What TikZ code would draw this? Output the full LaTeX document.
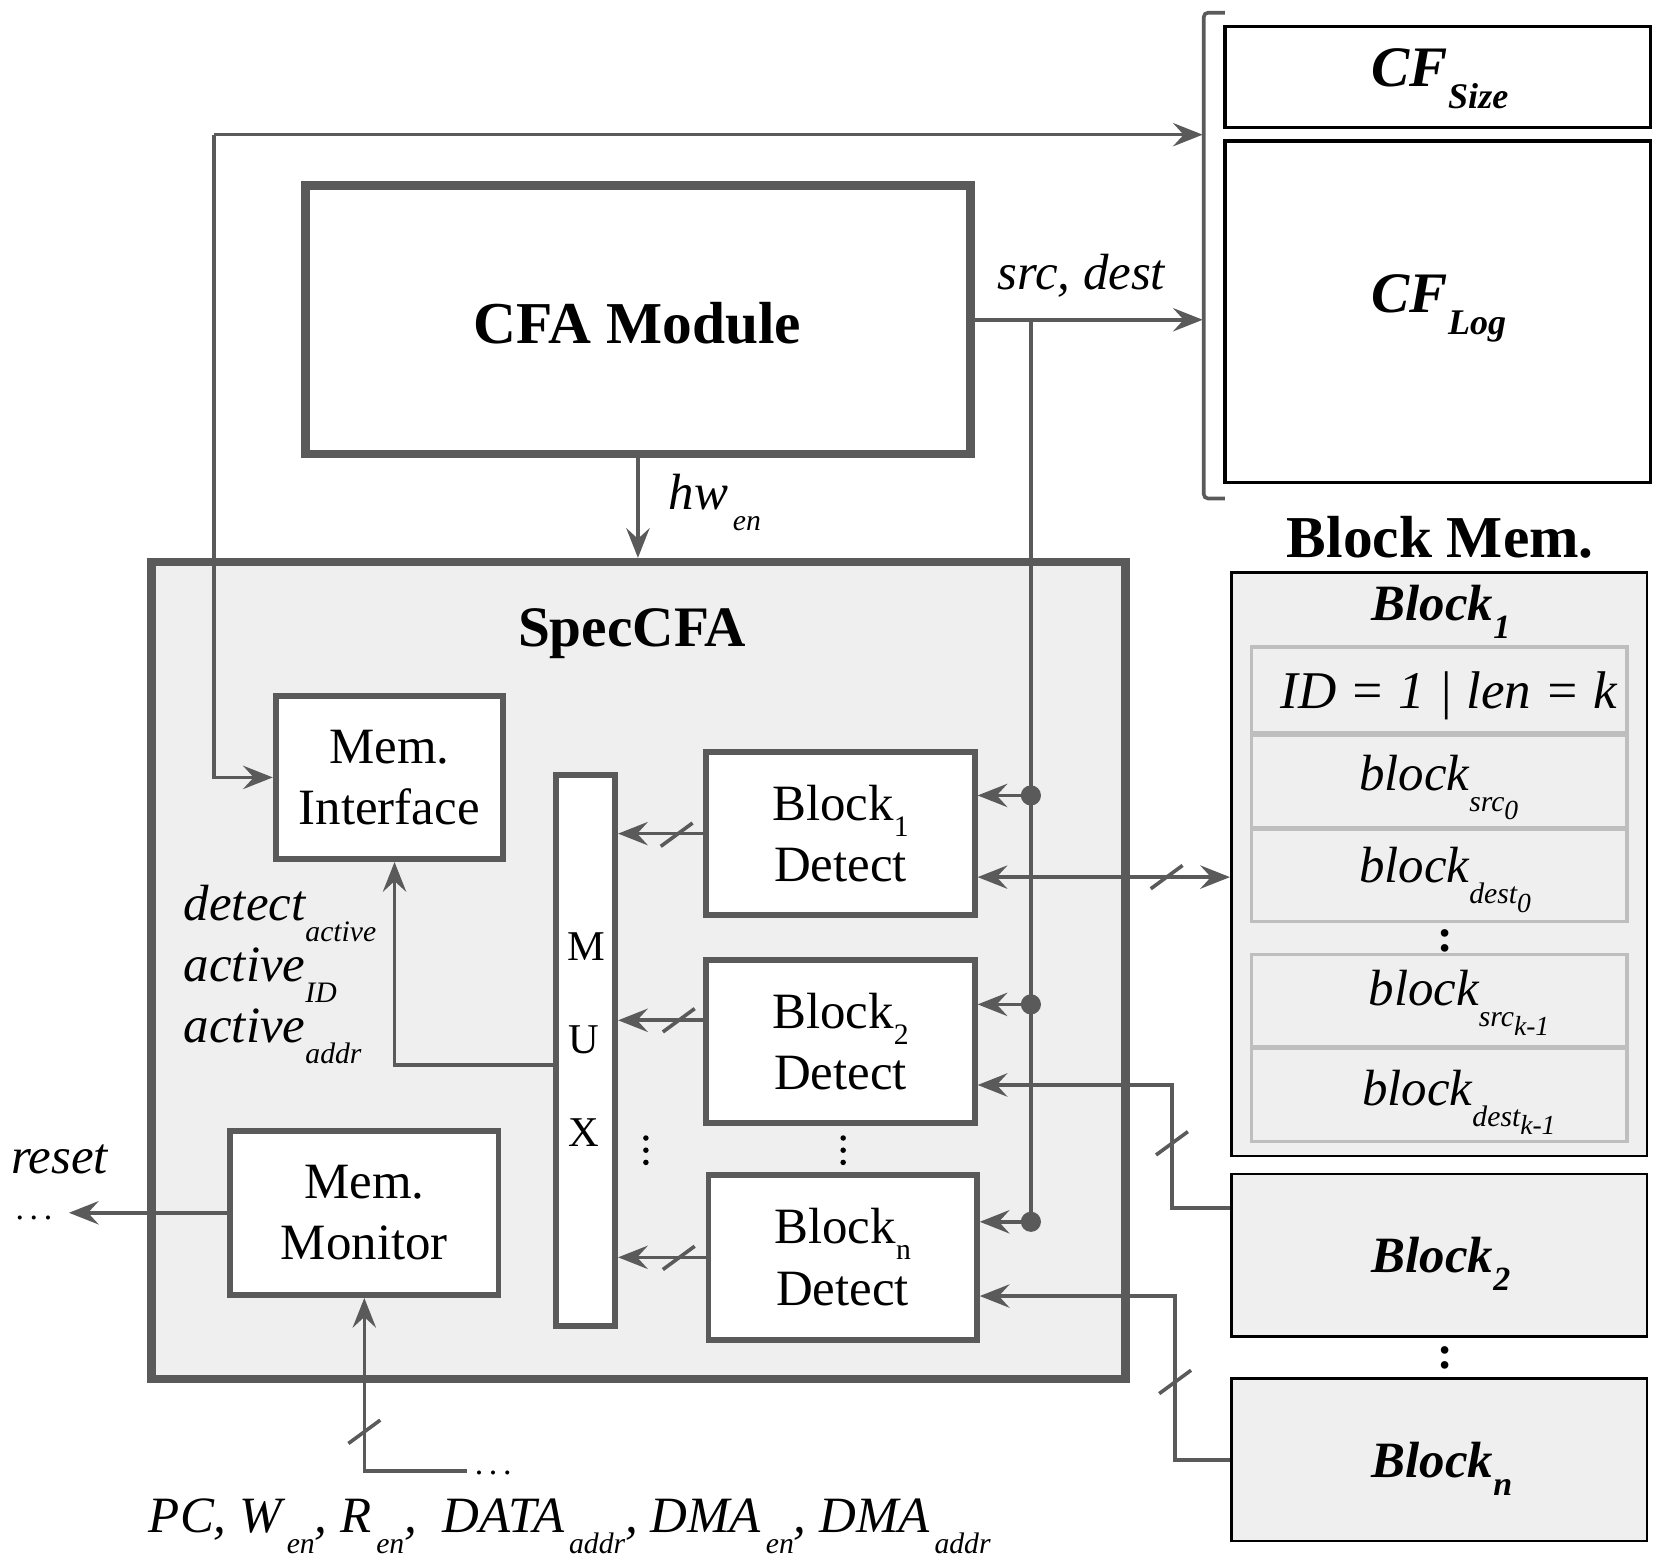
\documentclass[tikz,border=0pt]{standalone}
\usepackage{fontspec}
\setmainfont{Liberation Serif}
\usetikzlibrary{arrows.meta,calc}
\definecolor{ln}{HTML}{5A5A5A}
\definecolor{bg}{HTML}{EFEFEF}
\definecolor{rowc}{HTML}{BEBEBE}
\newcommand\fs[1]{\fontsize{#1}{#1}\selectfont}
\newcommand\lsub[1]{\raisebox{-10pt}{\fs{14}#1}}
\newcommand\ssub[1]{\raisebox{-4pt}{\fs{13}#1}}
\newcommand\bsub[1]{\raisebox{-10pt}{\fs{17}#1}}
\newcommand\tsub[1]{\raisebox{-8.5pt}{\fs{16}#1}}
\newcommand\dsub[1]{\raisebox{-7.5pt}{\fs{14}#1}}
\tikzset{
  conn/.style={draw=ln, line width=1.7pt},
  tipA/.tip={Stealth[length=14pt,width=11pt,inset=5pt]},
  arr/.style={-tipA},
  both/.style={tipA-tipA},
  bigbox/.style={draw=ln, line width=4pt, fill=white},
  inbox/.style={draw=ln, line width=2.8pt, fill=white, align=center, font=\fontsize{24}{29}\selectfont},
  cfbox/.style={draw=black, line width=1.5pt, fill=white},
  membox/.style={draw=black, line width=1.3pt, fill=bg},
  rowbox/.style={draw=rowc, line width=1.6pt, fill=bg},
  txt/.style={inner sep=0pt},
  lbl/.style={inner sep=0pt, font=\fs{24}\itshape},
  jdot/.style={circle, fill=ln, inner sep=0pt, minimum size=9.5pt},
  sdot/.style={circle, fill=black, inner sep=0pt, minimum size=2.6pt},
  slashmark/.pic={\draw[conn] (-15,11) -- (15,-11);}
}
\begin{document}
\begin{tikzpicture}[x=0.5pt,y=-0.5pt]
\useasboundingbox (0,0) rectangle (1568,1470);

% ---------- main boxes
\node[bigbox, fill=bg, minimum width=459pt, minimum height=385pt] (spec) at (602,915) {};
\node[txt, font=\fs{27}\bfseries] (spect) at (596,597) {SpecCFA};
\node[bigbox, minimum width=313.5pt, minimum height=126.5pt] (cfa) at (601.5,301.5) {};
\node[txt, font=\fs{28}\bfseries] (cfat) at (601,305) {CFA Module};

% ---------- inner boxes
\node[inbox, minimum width=107pt, minimum height=77pt] (memi) at (367,733) {Mem.\\Interface};
\node[inbox, minimum width=28pt, minimum height=259.5pt] (mux) at (552,990.5) {};
\node[txt, font=\fs{20}] (muxm) at (553,893) {M};
\node[txt, font=\fs{20}] (muxu) at (550,980) {U};
\node[txt, font=\fs{20}] (muxx) at (550,1068) {X};
\node[inbox, minimum width=126.5pt, minimum height=77pt] (bd1) at (792.5,786) {Block\dsub{1}\\Detect};
\node[inbox, minimum width=126.5pt, minimum height=77pt] (bd2) at (792.5,982) {Block\dsub{2}\\Detect};
\node[inbox, minimum width=126.5pt, minimum height=77.5pt] (bdn) at (794.5,1185.5) {Block\dsub{n}\\Detect};
\node[inbox, minimum width=126.5pt, minimum height=77.5pt] (memm) at (343.5,1143.5) {Mem.\\Monitor};
\foreach \yy [count=\i] in {1073,1084.5,1096} {
  \node[sdot] (va\i) at (609,\yy) {};
  \node[sdot] (vb\i) at (795,\yy) {};
}

% ---------- CF storage
\node[cfbox, minimum width=200.5pt, minimum height=47.5pt] (cfs) at (1355.5,72.5) {};
\node[txt, anchor=base west, font=\fs{27}\bfseries\itshape] (cfst) at (1293,82) {CF\bsub{Size}};
\node[cfbox, minimum width=200.5pt, minimum height=161pt] (cfl) at (1355.5,294) {};
\node[txt, anchor=base west, font=\fs{27}\bfseries\itshape] (cflt) at (1293,295) {CF\bsub{Log}};
\draw[conn, rounded corners=2pt] (1155,12) -- (1135,12) -- (1135,470) -- (1155,470);

% ---------- Block memory
\node[txt, font=\fs{28}\bfseries] (bmt) at (1358,507) {Block Mem.};
\node[membox, minimum width=196pt, minimum height=275pt] (bm1) at (1357,815) {};
\node[txt, anchor=base west, font=\fs{24}\bfseries\itshape] (bm1t) at (1293,585) {Block\tsub{1}};
\node[rowbox, minimum width=177pt, minimum height=40.5pt] (r1) at (1357,650.5) {};
\node[rowbox, minimum width=177pt, minimum height=43.5pt] (r2) at (1357,736.5) {};
\node[rowbox, minimum width=177pt, minimum height=43.5pt] (r3) at (1357,825.5) {};
\node[rowbox, minimum width=177pt, minimum height=43.5pt] (r4) at (1357,943.5) {};
\node[rowbox, minimum width=177pt, minimum height=44pt] (r5) at (1357,1032) {};
\node[lbl, anchor=base west, font=\fs{25}\itshape] (r1t) at (1207,668) {ID = 1 | len = k};
\node[lbl, anchor=base west] (r2t) at (1281,745) {block\lsub{src\ssub{0}}};
\node[lbl, anchor=base west] (r3t) at (1281,832) {block\lsub{dest\ssub{0}}};
\node[lbl, anchor=base west] (r4t) at (1290,948) {block\lsub{src\ssub{k-1}}};
\node[lbl, anchor=base west] (r5t) at (1284,1042) {block\lsub{dest\ssub{k-1}}};
\node[txt, font=\fs{22}\bfseries] (col1) at (1363,887) {:};
\node[membox, minimum width=196pt, minimum height=76.5pt] (bm2) at (1357,1183.5) {};
\node[txt, anchor=base west, font=\fs{24}\bfseries\itshape] (bm2t) at (1293,1200) {Block\tsub{2}};
\node[txt, font=\fs{22}\bfseries] (col2) at (1363,1280) {:};
\node[membox, minimum width=196pt, minimum height=76.5pt] (bmn) at (1357,1376.5) {};
\node[txt, anchor=base west, font=\fs{24}\bfseries\itshape] (bmnt) at (1293,1393) {Block\tsub{n}};

% ---------- labels
\node[lbl, anchor=base west] (sdl) at (940,273) {src, dest};
\node[lbl, anchor=base west] (hwl) at (630,480) {hw\lsub{\,en}};
\node[lbl, anchor=base west] (l1) at (173,868) {detect\lsub{active}};
\node[lbl, anchor=base west] (l2) at (173,925) {active\lsub{ID}};
\node[lbl, anchor=base west] (l3) at (173,983) {active\lsub{addr}};
\node[lbl, anchor=base west] (rstl) at (10,1106) {reset};
\node[txt, anchor=base, font=\fs{16}] (rdots) at (32,1150) {.\,.\,.};
\node[txt, anchor=base, font=\fs{16}] (idots) at (465,1390) {.\,.\,.};
\node[lbl, anchor=base west] (inl) at (140,1445) {PC, W\lsub{\,en}, R\lsub{\,en}, \ DATA\lsub{\,addr}, DMA\lsub{\,en}, DMA\lsub{\,addr}};

% ---------- coordinates
\coordinate (tl) at (202,127);
\coordinate (brkA) at (1134,127);
\coordinate (brkB) at (1134,301.5);
\coordinate (bus0) at (972,301.5);
\coordinate (rst) at (65,1143.5);
\coordinate (inp) at (440,1387);
\coordinate (k2a) at (1105,1139);
\coordinate (k2b) at (1105,1023);
\coordinate (kna) at (1108,1376.5);
\coordinate (knb) at (1108,1222);

% ---------- connectors
\draw[conn,arr] (tl) -- (brkA);
\draw[conn,arr] (tl) |- (memi.west);
\draw[conn,arr] (cfa.east) -- (brkB);
\draw[conn,arr] (cfa.south) -- (cfa.south |- spec.north);
\node[jdot] (j1) at (972,750) {};
\node[jdot] (j2) at (972,947) {};
\node[jdot] (j3) at (972,1152) {};
\draw[conn] (bus0) -- (j3.center);
\draw[conn,arr] (j1.center) -- (j1 -| bd1.east);
\draw[conn,arr] (j2.center) -- (j2 -| bd2.east);
\draw[conn,arr] (j3.center) -- (j3 -| bdn.east);

\draw[conn,arr] (bd1.west) -- (bd1.west -| mux.east);
\draw[conn,arr] (bd2.west |- 0,962) -- (mux.east |- 0,962);
\draw[conn,arr] (bdn.west) -- (bdn.west -| mux.east);
\pic at (638,787) {slashmark};
\pic at (640,962) {slashmark};
\pic at (640,1186) {slashmark};

\draw[conn,arr] (mux.west |- 0,1004) -| ([xshift=2.5pt]memi.south);

\draw[conn,both] (bd1.east |- 0,827) -- (bm1.west |- 0,827);
\pic at (1100,827) {slashmark};
\draw[conn,arr] (bm2.west |- k2a) -- (k2a) -- (k2b) -- (bd2.east |- k2b);
\pic at (1105,1078) {slashmark};
\draw[conn,arr] (bmn.west) -- (kna) -- (knb) -- (bdn.east |- knb);
\pic at (1108,1303) {slashmark};

\draw[conn,arr] (memm.west) -- (rst);
\draw[conn,arr] (inp) -- (memm.south |- inp) -- (memm.south);
\pic at (343.5,1350) {slashmark};
\end{tikzpicture}
\end{document}
